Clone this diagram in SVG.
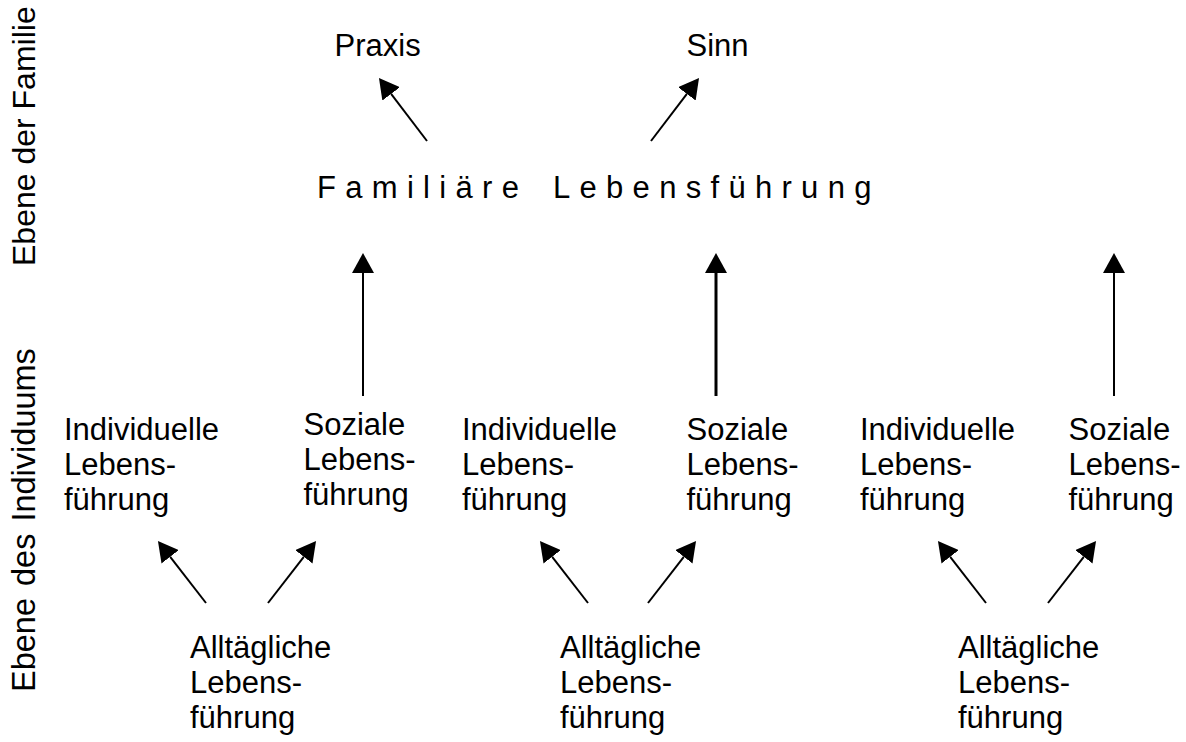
<svg xmlns="http://www.w3.org/2000/svg" width="1186" height="742" viewBox="0 0 1186 742">
<style>
text{font-family:"Liberation Sans",Arial,sans-serif;font-size:31px;fill:#000}
.vl{font-size:32px}
.wide{font-size:32.5px;word-spacing:3px}
.fam{letter-spacing:9.3px}
line{stroke:#000;stroke-width:2}
.thick{stroke-width:3}
</style>
<defs>
<marker id="ah" viewBox="0 0 20 22" refX="0" refY="11" markerWidth="20" markerHeight="22" markerUnits="userSpaceOnUse" orient="auto">
<path d="M0,0 L20,11 L0,22 Z" fill="#000"/>
</marker>
</defs>
<rect width="1186" height="742" fill="#fff"/>
<g id="label-familie"><text class="vl" transform="translate(35,266) rotate(-90)">Ebene der Familie</text></g>
<g id="label-individuum"><text class="vl wide" transform="translate(35,692) rotate(-90)">Ebene des Individuums</text></g>
<g id="praxis"><text x="334.5" y="56">Praxis</text></g>
<g id="sinn"><text x="686.5" y="56">Sinn</text></g>
<g id="familiaere"><text class="fam" x="317" y="198">Familiäre<tspan x="553">Lebensführung</tspan></text></g>
<g id="ind1"><text x="64" y="440">Individuelle<tspan x="64" y="475">Lebens-</tspan><tspan x="64" y="510">führung</tspan></text></g>
<g id="soz1"><text x="303.5" y="435">Soziale<tspan x="303.5" y="470">Lebens-</tspan><tspan x="303.5" y="505">führung</tspan></text></g>
<g id="ind2"><text x="462" y="440">Individuelle<tspan x="462" y="475">Lebens-</tspan><tspan x="462" y="510">führung</tspan></text></g>
<g id="soz2"><text x="686.5" y="440">Soziale<tspan x="686.5" y="475">Lebens-</tspan><tspan x="686.5" y="510">führung</tspan></text></g>
<g id="ind3"><text x="860" y="440">Individuelle<tspan x="860" y="475">Lebens-</tspan><tspan x="860" y="510">führung</tspan></text></g>
<g id="soz3"><text x="1068.5" y="440">Soziale<tspan x="1068.5" y="475">Lebens-</tspan><tspan x="1068.5" y="510">führung</tspan></text></g>
<g id="all1"><text x="190" y="658">Alltägliche<tspan x="190" y="693">Lebens-</tspan><tspan x="190" y="728">führung</tspan></text></g>
<g id="all2"><text x="560" y="658">Alltägliche<tspan x="560" y="693">Lebens-</tspan><tspan x="560" y="728">führung</tspan></text></g>
<g id="all3"><text x="958" y="658">Alltägliche<tspan x="958" y="693">Lebens-</tspan><tspan x="958" y="728">führung</tspan></text></g>
<g id="connectors">
<line x1="427" y1="141" x2="391.1" y2="93.9" marker-end="url(#ah)"/>
<line x1="651" y1="141" x2="686.9" y2="93.9" marker-end="url(#ah)"/>
<line x1="363" y1="396" x2="363" y2="273" marker-end="url(#ah)"/>
<line class="thick" x1="716" y1="396" x2="716" y2="273" marker-end="url(#ah)"/>
<line x1="1114" y1="396" x2="1114" y2="273" marker-end="url(#ah)"/>
<line x1="206" y1="603" x2="170.2" y2="556.8" marker-end="url(#ah)"/>
<line x1="268" y1="603" x2="303.8" y2="556.8" marker-end="url(#ah)"/>
<line x1="588" y1="603" x2="552.2" y2="556.8" marker-end="url(#ah)"/>
<line x1="648" y1="603" x2="683.8" y2="556.8" marker-end="url(#ah)"/>
<line x1="986" y1="603" x2="950.2" y2="556.8" marker-end="url(#ah)"/>
<line x1="1048" y1="603" x2="1083.8" y2="556.8" marker-end="url(#ah)"/>
</g>
</svg>
